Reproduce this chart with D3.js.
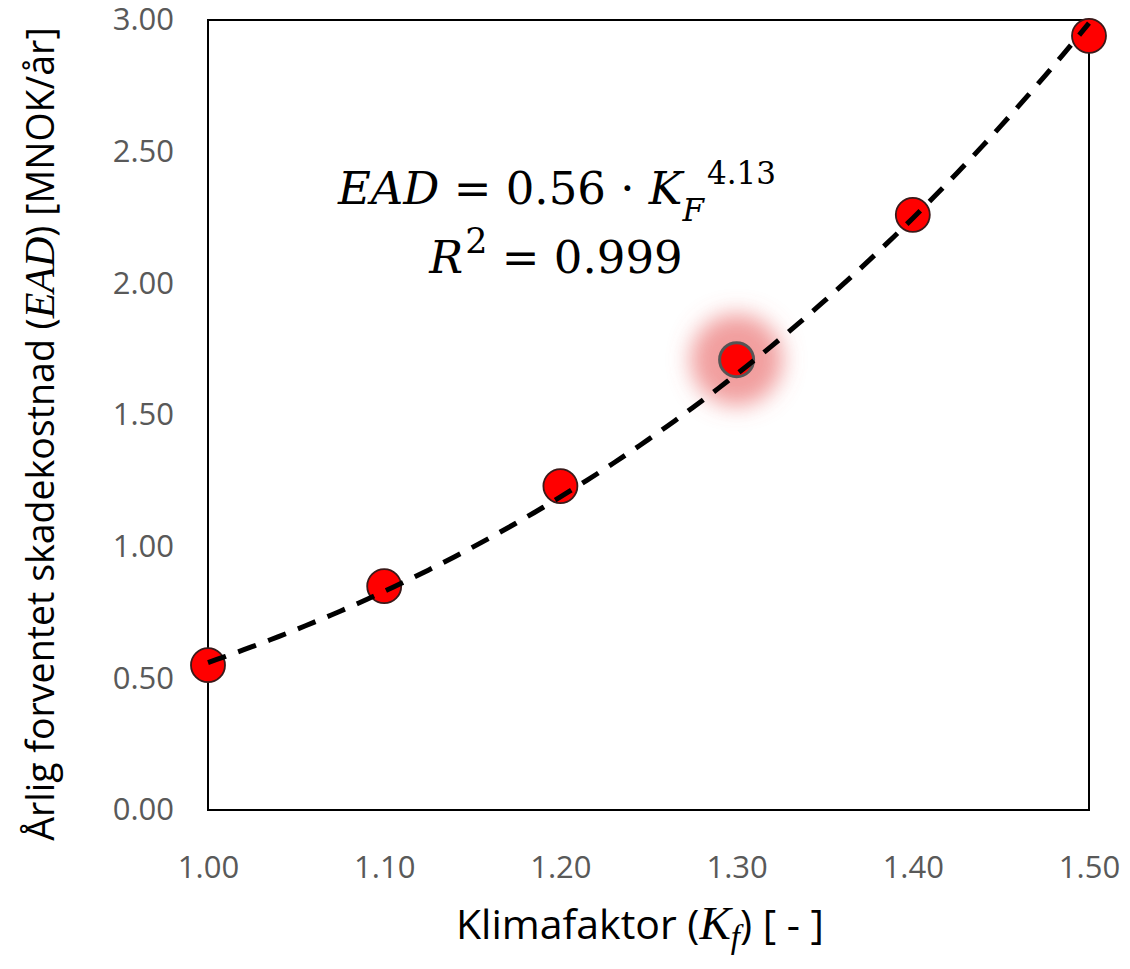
<!DOCTYPE html>
<html>
<head>
<meta charset="utf-8">
<script src="https://cdn.jsdelivr.net/npm/d3@7"></script>
<style>
  body { margin: 0; background: #fff; }
  svg { display: block; }
</style>
</head>
<body>
<div id="chart"></div>
<script>
// climate factor (x) and annual expected damage cost in MNOK/yr (y)
const climateFactors = [1.0, 1.1, 1.2, 1.3, 1.4, 1.5];
const eadValues = [0.55, 0.85, 1.23, 1.71, 2.26, 2.94];
const highlightedFactor = 1.3;

// power trend line shown in the chart: EAD = a * Kf^b
const trendCoef = 0.56;
const trendExp = 4.13;

const xTicks = [1.0, 1.1, 1.2, 1.3, 1.4, 1.5];
const yTicks = [0, 0.5, 1.0, 1.5, 2.0, 2.5, 3.0];

const width = 1130, height = 969;
const margin = { top: 20, right: 41, bottom: 159, left: 208 };

const svg = d3.select("#chart").append("svg")
  .attr("width", width)
  .attr("height", height);

const x = d3.scaleLinear().domain([1.0, 1.5]).range([margin.left, width - margin.right]);
const y = d3.scaleLinear().domain([0, 3]).range([height - margin.bottom, margin.top]);

const tickFont = "'Open Sans', 'Noto Sans', sans-serif";

// glow filter for the highlighted point
const defs = svg.append("defs");
const blur = defs.append("filter").attr("id", "glow")
  .attr("x", "-100%").attr("y", "-100%").attr("width", "300%").attr("height", "300%");
blur.append("feGaussianBlur").attr("stdDeviation", 11);

// x axis labels
const xAxis = svg.append("g")
  .attr("transform", `translate(0,${height - margin.bottom})`)
  .call(d3.axisBottom(x).tickValues(xTicks).tickSize(0).tickPadding(46).tickFormat(d3.format(".2f")));
xAxis.select(".domain").remove();
xAxis.selectAll("text")
  .attr("font-family", tickFont).attr("font-size", 31).attr("fill", "#595959");

// y axis labels
const yAxis = svg.append("g")
  .attr("transform", `translate(${margin.left},0)`)
  .call(d3.axisLeft(y).tickValues(yTicks).tickSize(0).tickPadding(34).tickFormat(d3.format(".2f")));
yAxis.select(".domain").remove();
yAxis.selectAll("text")
  .attr("font-family", tickFont).attr("font-size", 31).attr("fill", "#595959");

// plot frame
svg.append("rect")
  .attr("x", x(1.0)).attr("y", y(3))
  .attr("width", x(1.5) - x(1.0)).attr("height", y(0) - y(3))
  .attr("fill", "none").attr("stroke", "#000").attr("stroke-width", 2);

// highlight glow behind point at Kf = 1.3
const hi = climateFactors.indexOf(highlightedFactor);
svg.append("circle")
  .attr("cx", x(climateFactors[hi])).attr("cy", y(eadValues[hi]))
  .attr("r", 46)
  .attr("fill", "#ea6a6a").attr("fill-opacity", 0.65)
  .attr("filter", "url(#glow)");

// data points
svg.append("g").selectAll("circle")
  .data(climateFactors)
  .join("circle")
  .attr("cx", d => x(d))
  .attr("cy", (d, i) => y(eadValues[i]))
  .attr("r", 17)
  .attr("fill", "#ff0000")
  .attr("stroke", (d) => d === highlightedFactor ? "#555" : "#3a1a1a")
  .attr("stroke-width", (d) => d === highlightedFactor ? 3 : 1.8);

// dashed power trend line (drawn over the markers, as in the original)
const trend = d3.range(0, 101).map(i => {
  const k = 1.0 + i * 0.005;
  return [k, trendCoef * Math.pow(k, trendExp)];
});
svg.append("path")
  .datum(trend)
  .attr("fill", "none")
  .attr("stroke", "#000")
  .attr("stroke-width", 5)
  .attr("stroke-dasharray", "19,13")
  .attr("d", d3.line().x(d => x(d[0])).y(d => y(d[1])));

// equation annotation
const mathFont = "'DejaVu Serif', 'Liberation Serif', serif";
const eq = svg.append("g").attr("font-family", mathFont).attr("font-size", 45)
  .attr("fill", "#000").attr("text-anchor", "middle");
const l1 = eq.append("text").attr("x", 557).attr("y", 204);
l1.append("tspan").attr("font-style", "italic").text("EAD");
l1.append("tspan").text(" = 0.56 · ");
l1.append("tspan").attr("font-style", "italic").text("K");
l1.append("tspan").attr("font-style", "italic").attr("font-size", 31).attr("dy", 17).text("F");
l1.append("tspan").attr("font-size", 31).attr("dy", -37).attr("dx", 3).text("4.13");

const l2 = eq.append("text").attr("x", 556).attr("y", 273);
l2.append("tspan").attr("font-style", "italic").text("R");
l2.append("tspan").attr("font-size", 35).attr("dy", -20).attr("dx", 2).text("2");
l2.append("tspan").attr("dy", 20).text(" = 0.999");

// axis titles
const titleFont = "'Open Sans', 'Noto Sans', sans-serif";
const sansMath = "'Liberation Serif', 'DejaVu Serif', serif";
const xt = svg.append("text")
  .attr("x", 640).attr("y", 939)
  .attr("text-anchor", "middle")
  .attr("font-family", titleFont).attr("font-size", 41).attr("fill", "#000");
xt.append("tspan").text("Klimafaktor (");
xt.append("tspan").attr("font-family", sansMath).attr("font-style", "italic").attr("font-size", 47).text("K");
xt.append("tspan").attr("font-family", sansMath).attr("font-style", "italic").attr("font-size", 33).attr("dy", 9).text("f");
xt.append("tspan").attr("dy", -9).text(") [ - ]");

const yt = svg.append("text")
  .attr("transform", `translate(54,434) rotate(-90)`)
  .attr("text-anchor", "middle")
  .attr("font-family", titleFont).attr("font-size", 37.5).attr("fill", "#000");
yt.append("tspan").text("Årlig forventet skadekostnad (");
yt.append("tspan").attr("font-family", sansMath).attr("font-style", "italic").attr("font-size", 42).text("EAD");
yt.append("tspan").text(") [MNOK/år]");
</script>
</body>
</html>
